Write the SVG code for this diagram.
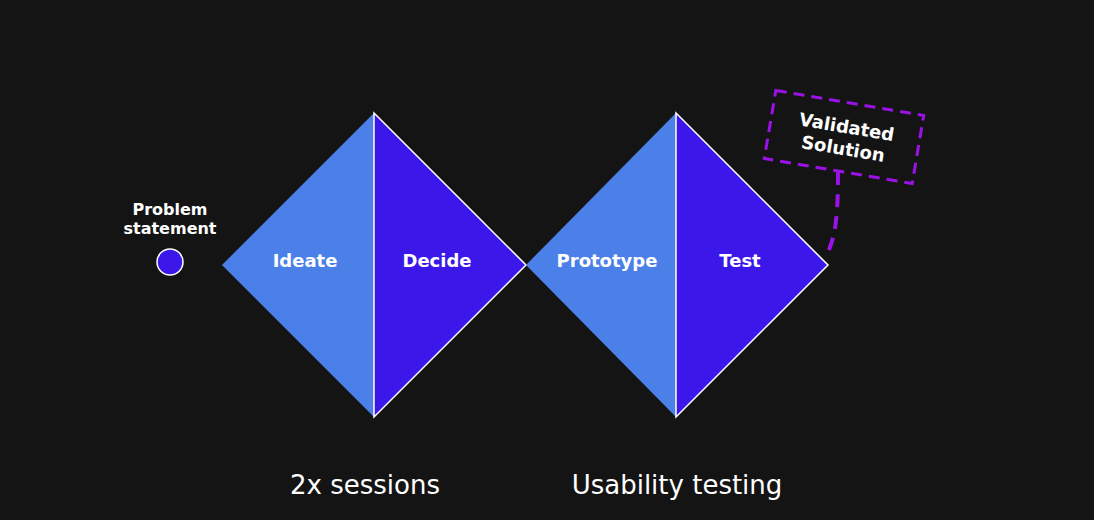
<svg xmlns="http://www.w3.org/2000/svg" width="1094" height="520" viewBox="0 0 1094 520">
<style>
.lt{fill:#4b80e9;stroke:none}
.dk{fill:#3c17ea;stroke:#ffffff;stroke-width:1.5}
.lbl{font-family:"DejaVu Sans",Verdana,sans-serif;font-weight:bold;font-size:18px;fill:#ffffff;text-anchor:middle}
.sm{font-size:16px}
.big{font-family:"DejaVu Sans",Verdana,sans-serif;font-size:26px;fill:#ffffff;text-anchor:middle}
.dash{fill:none;stroke:#9a12e6;stroke-width:3;stroke-dasharray:11 7}
</style>
<rect width="1094" height="520" fill="#141414"/>
<g id="problem">
<circle cx="170" cy="262" r="13" fill="#3c17ea" stroke="#ffffff" stroke-width="1.5"/>
<text class="lbl sm" x="170" y="215">Problem</text>
<text class="lbl sm" x="170" y="234">statement</text>
</g>
<g id="ideate">
<polygon class="lt" points="222,265 374,113 374,417"/>
<text class="lbl" x="305" y="267">Ideate</text>
</g>
<g id="decide">
<polygon class="dk" points="374,113 526,265 374,417"/>
<text class="lbl" x="437" y="267">Decide</text>
</g>
<g id="prototype">
<polygon class="lt" points="526,265 676,113 676,417"/>
<text class="lbl" x="607" y="267">Prototype</text>
</g>
<g id="test">
<polygon class="dk" points="676,113 828,265 676,417"/>
<text class="lbl" x="740" y="267">Test</text>
</g>
<g id="validated">
<g transform="rotate(9.6 844 137)">
<rect class="dash" x="769" y="102.5" width="150" height="69"/>
<text class="lbl" x="845" y="133">Validated</text>
<text class="lbl" x="845" y="155">Solution</text>
</g>
</g>
<g id="connectors">
<path d="M838,172 C838,215 836,238 825,258" fill="none" stroke="#9a12e6" stroke-width="4" stroke-dasharray="13 9"/>
</g>
<g id="captions">
<text class="big" x="365" y="494">2x sessions</text>
<text class="big" x="677" y="494">Usability testing</text>
</g>
</svg>
